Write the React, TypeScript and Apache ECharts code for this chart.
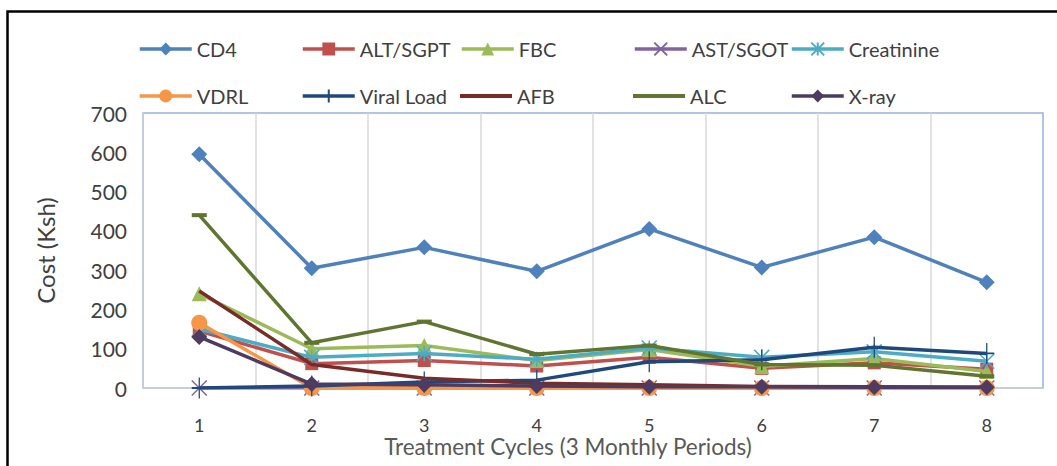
import React, { useEffect, useRef } from "react";
import * as echarts from "echarts";

const categories = ["1", "2", "3", "4", "5", "6", "7", "8"];
const cd4 = [595, 305, 358, 297, 405, 307, 384, 269];
const altSgpt = [145, 62, 70, 56, 78, 50, 64, 48];
const fbc = [240, 100, 108, 70, 98, 55, 75, 42];
const astSgot = [0, 0, 0, 0, 0, 0, 0, 0];
const creatinine = [150, 78, 88, 73, 102, 78, 92, 68];
const vdrl = [166, 0, 0, 0, 0, 0, 0, 0];
const viralLoad = [0, 5, 15, 20, 67, 72, 104, 88];
const afb = [247, 60, 25, 12, 8, 4, 3, 2];
const alc = [440, 115, 169, 86, 108, 60, 58, 30];
const xray = [130, 10, 8, 5, 3, 3, 2, 2];

const seriesNames = ["CD4", "ALT/SGPT", "FBC", "AST/SGOT", "Creatinine", "VDRL", "Viral Load", "AFB", "ALC", "X-ray"];
const seriesData = [cd4, altSgpt, fbc, astSgot, creatinine, vdrl, viralLoad, afb, alc, xray];
const colors = ["#4f81bd", "#c0504d", "#9bbb59", "#8064a2", "#4bacc6", "#f79646", "#1f497d", "#772c2a", "#5f7530", "#4d3b62"];
const symbols: any[] = [
  "diamond",
  "rect",
  "triangle",
  "path://M0,0L10,10M10,0L0,10",
  "path://M0,0L10,10M10,0L0,10M5,0L5,10",
  "circle",
  "path://M5,0L5,10M0,5L10,5",
  "none",
  "rect",
  "diamond",
];
const symbolSizes: any[] = [16, 13, 15, 15, 15, 16, [15, 21], 0, [15, 4], 16];
const strokeSymbol = [false, false, false, true, true, false, true, false, false, false];
const plainLegend = [false, false, false, false, false, false, false, true, true, false];

const legendCols = [138, 301, 460, 633, 790];
const legendRows = [39, 86];

export default function App() {
  const ref = useRef<HTMLDivElement>(null);
  useEffect(() => {
    document.body.style.margin = "0";
    const chart = echarts.init(ref.current!, null, { renderer: "svg" });
    const font = "Lato, 'Open Sans', sans-serif";
    const legends = seriesNames.map((name, i) => {
      const base: any = {
        data: [name],
        left: legendCols[i % 5],
        top: legendRows[Math.floor(i / 5)],
        itemWidth: 52,
        itemHeight: 16,
        padding: 0,
        lineStyle: { width: 3.5 },
        textStyle: { fontSize: 20, color: "#404040", fontFamily: font },
      };
      if (plainLegend[i]) {
        base.icon = "rect";
        base.itemHeight = 4;
      }
      return base;
    });
    const series = seriesNames.map((name, i) => ({
      name,
      type: "line",
      data: seriesData[i],
      symbol: symbols[i],
      symbolSize: symbolSizes[i],
      showSymbol: symbols[i] !== "none",
      lineStyle: { color: colors[i], width: 3.5 },
      itemStyle: strokeSymbol[i]
        ? { color: colors[i], borderColor: colors[i], borderWidth: 1.5 }
        : { color: colors[i], borderWidth: 0 },
      z: 2 + i,
    }));
    chart.setOption({
      animation: false,
      backgroundColor: "#ffffff",
      legend: legends,
      grid: {
        left: 143,
        right: 14,
        top: 113,
        bottom: 78,
        containLabel: false,
        outerBoundsMode: "none",
        show: true,
        borderColor: "#95b3d7",
        borderWidth: 1.5,
        backgroundColor: "transparent",
      },
      xAxis: {
        type: "category",
        data: categories,
        boundaryGap: true,
        axisLine: { show: true, lineStyle: { color: "#d0d0d0", width: 1.5 } },
        axisTick: { show: false },
        axisLabel: { margin: 28, fontSize: 18, lineHeight: 18, color: "#404040", fontFamily: font },
        splitLine: { show: true, showMinLine: false, showMaxLine: false, lineStyle: { color: "#d9d9d9", width: 1.5 } },
        name: "Treatment Cycles (3 Monthly Periods)",
        nameLocation: "middle",
        nameGap: 47,
        nameMoveOverlap: false,
        nameTextStyle: { fontSize: 22.5, lineHeight: 23, color: "#595959", fontFamily: font, padding: [0, 50, 0, 0] },
      },
      yAxis: {
        type: "value",
        min: 0,
        max: 700,
        interval: 100,
        axisLine: { show: true, lineStyle: { color: "#c8d0dc", width: 1.5 } },
        axisTick: { show: false },
        splitLine: { show: false },
        axisLabel: { margin: 16, fontSize: 21, color: "#404040", fontFamily: font },
        name: "Cost (Ksh)",
        nameLocation: "middle",
        nameGap: 86,
        nameMoveOverlap: false,
        nameRotate: 90,
        nameTextStyle: { fontSize: 24, color: "#404040", fontFamily: font },
      },
      graphic: [
        {
          type: "rect",
          left: 5,
          top: 9,
          shape: { width: 1070, height: 480 },
          style: { fill: "none", stroke: "#000000", lineWidth: 2.5 },
          silent: true,
          z: 100,
        },
      ],
      series,
    });
    return () => chart.dispose();
  }, []);
  return <div ref={ref} style={{ width: 1057, height: 466 }} />;
}
